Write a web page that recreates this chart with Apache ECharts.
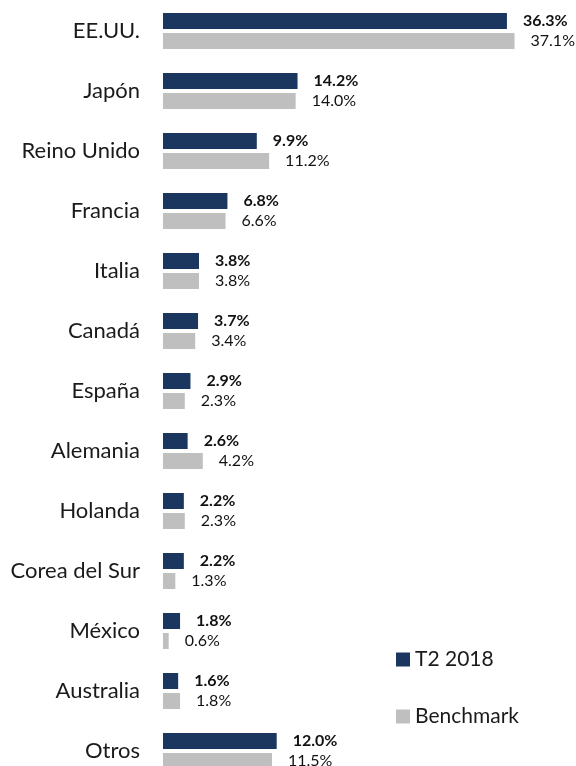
<!DOCTYPE html>
<html>
<head>
<meta charset="utf-8">
<script src="https://cdn.jsdelivr.net/npm/echarts@6/dist/echarts.min.js"></script>
<style>
  html, body { margin: 0; padding: 0; background: #fff; }
  #chart { width: 576px; height: 766px; }
</style>
</head>
<body>
<div id="chart"></div>
<script>
var categories = ['EE.UU.', 'Japón', 'Reino Unido', 'Francia', 'Italia', 'Canadá', 'España',
  'Alemania', 'Holanda', 'Corea del Sur', 'México', 'Australia', 'Otros'];
var t2_2018 = [36.3, 14.2, 9.9, 6.8, 3.8, 3.7, 2.9, 2.6, 2.2, 2.2, 1.8, 1.6, 12.0];
var benchmark = [37.1, 14.0, 11.2, 6.6, 3.8, 3.4, 2.3, 4.2, 2.3, 1.3, 0.6, 1.8, 11.5];

var font = 'Lato';
var chart = echarts.init(document.getElementById('chart'));

function pct(p) {
  return p.value.toFixed(1) + '%';
}

chart.setOption({
  animation: false,
  textStyle: { fontFamily: font },
  legend: {
    orient: 'vertical',
    left: 391,
    top: 644,
    itemWidth: 14,
    itemHeight: 14,
    itemGap: 36,
    icon: 'rect',
    textStyle: { fontSize: 21, color: '#1a1a1a', fontFamily: font },
    data: ['T2 2018', 'Benchmark']
  },
  grid: { left: 163, top: 1, width: 379, height: 780, outerBoundsMode: 'none' },
  xAxis: {
    type: 'value',
    min: 0,
    max: 40,
    show: false
  },
  yAxis: {
    type: 'category',
    inverse: true,
    data: categories,
    axisLine: { show: false },
    axisTick: { show: false },
    axisLabel: { fontSize: 22, color: '#1a1a1a', margin: 23, fontFamily: font }
  },
  series: [
    {
      name: 'T2 2018',
      type: 'bar',
      data: t2_2018,
      barWidth: 16,
      barGap: '25%',
      itemStyle: { color: '#1b375f' },
      label: {
        show: true,
        position: 'right',
        distance: 16,
        fontSize: 16,
        fontWeight: 'bold',
        color: '#111',
        fontFamily: font,
        formatter: pct
      }
    },
    {
      name: 'Benchmark',
      type: 'bar',
      data: benchmark,
      barWidth: 16,
      itemStyle: { color: '#bfbfbf' },
      label: {
        show: true,
        position: 'right',
        distance: 16,
        fontSize: 16,
        color: '#111',
        fontFamily: font,
        formatter: pct
      }
    }
  ]
});
</script>
</body>
</html>
